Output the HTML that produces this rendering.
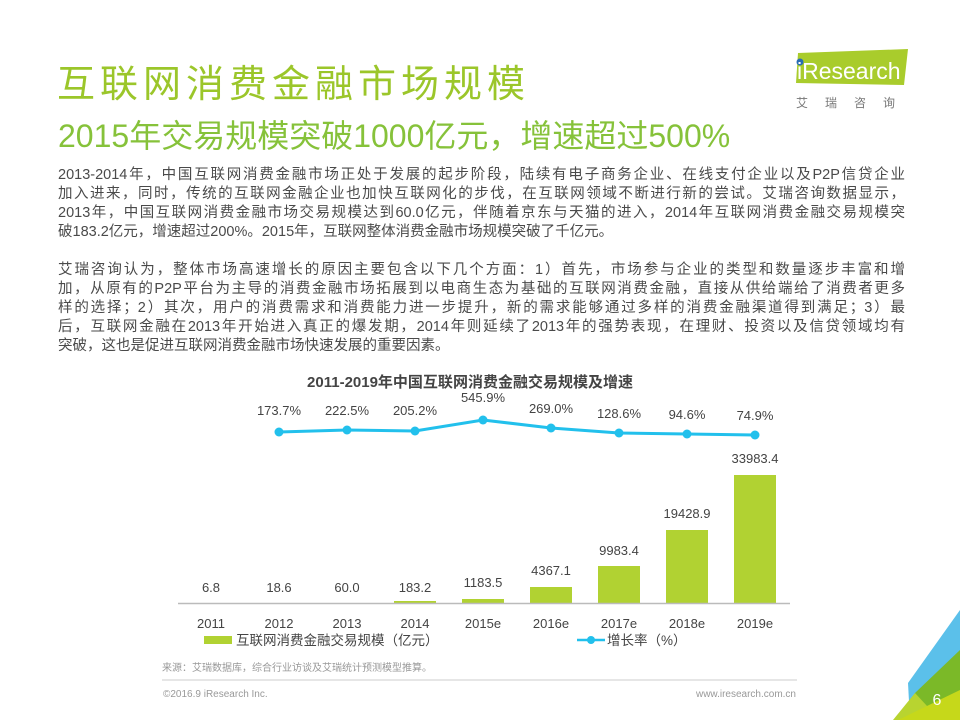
<!DOCTYPE html>
<html><head><meta charset="utf-8"><style>
body{margin:0;width:960px;height:720px;background:#fff;position:relative;overflow:hidden;font-family:"Liberation Sans","Noto Sans CJK SC",sans-serif;}
.a{position:absolute;white-space:nowrap;}
.p{position:absolute;left:58px;width:847px;font-size:14.5px;color:#4a4a4a;text-align:justify;text-align-last:justify;white-space:nowrap;line-height:19px;}
.p.e{text-align-last:left;}
</style></head><body>
<div class="a" style="left:57px;top:53px;font-size:38px;color:#9bc62a;letter-spacing:5px;">互联网消费金融市场规模</div>
<div class="a" style="left:58px;top:111px;font-size:32px;color:#86c23a;">2015年交易规模突破1000亿元，增速超过500%</div>

<div class="p" style="top:166px">2013-2014年，中国互联网消费金融市场正处于发展的起步阶段，陆续有电子商务企业、在线支付企业以及P2P信贷企业</div>
<div class="p" style="top:185px">加入进来，同时，传统的互联网金融企业也加快互联网化的步伐，在互联网领域不断进行新的尝试。艾瑞咨询数据显示，</div>
<div class="p" style="top:204px">2013年，中国互联网消费金融市场交易规模达到60.0亿元，伴随着京东与天猫的进入，2014年互联网消费金融交易规模突</div>
<div class="p e" style="top:223px">破183.2亿元，增速超过200%。2015年，互联网整体消费金融市场规模突破了千亿元。</div>
<div class="p" style="top:261px">艾瑞咨询认为，整体市场高速增长的原因主要包含以下几个方面：1）首先，市场参与企业的类型和数量逐步丰富和增</div>
<div class="p" style="top:280px">加，从原有的P2P平台为主导的消费金融市场拓展到以电商生态为基础的互联网消费金融，直接从供给端给了消费者更多</div>
<div class="p" style="top:299px">样的选择；2）其次，用户的消费需求和消费能力进一步提升，新的需求能够通过多样的消费金融渠道得到满足；3）最</div>
<div class="p" style="top:318px">后，互联网金融在2013年开始进入真正的爆发期，2014年则延续了2013年的强势表现，在理财、投资以及信贷领域均有</div>
<div class="p e" style="top:337px">突破，这也是促进互联网消费金融市场快速发展的重要因素。</div>

<svg class="a" style="left:780px;top:45px" width="140" height="70">
<polygon points="18,8 128,4 124,40 16,38" fill="#a9cc2c"/>
<circle cx="20" cy="17" r="3.5" fill="#2a6db5"/>
<text x="17" y="34" font-size="23" fill="#fff" font-family="Liberation Sans,sans-serif">iResearch</text>
<text x="16" y="62" font-size="12" fill="#777" letter-spacing="17" font-family="Liberation Sans,Noto Sans CJK SC,sans-serif">艾瑞咨询</text>
</svg>

<svg class="a" style="left:0;top:0" width="960" height="720" font-family="Liberation Sans,Noto Sans CJK SC,sans-serif">
<text x="470" y="387" text-anchor="middle" font-size="15" font-weight="bold" fill="#444">2011-2019年中国互联网消费金融交易规模及增速</text>
<g fill="#b1d232">
<rect x="394" y="601" width="42" height="2"/>
<rect x="462" y="599" width="42" height="4"/>
<rect x="530" y="587" width="42" height="16"/>
<rect x="598" y="566" width="42" height="37"/>
<rect x="666" y="530" width="42" height="73"/>
<rect x="734" y="475" width="42" height="128"/>
</g>
<line x1="178" y1="603.5" x2="790" y2="603.5" stroke="#bbb" stroke-width="1.5"/>
<g font-size="13" fill="#444" text-anchor="middle">
<text x="211" y="592">6.8</text><text x="279" y="592">18.6</text><text x="347" y="592">60.0</text><text x="415" y="592">183.2</text>
<text x="483" y="587">1183.5</text><text x="551" y="575">4367.1</text><text x="619" y="555">9983.4</text><text x="687" y="518">19428.9</text><text x="755" y="463">33983.4</text>
<text x="211" y="628">2011</text><text x="279" y="628">2012</text><text x="347" y="628">2013</text><text x="415" y="628">2014</text><text x="483" y="628">2015e</text><text x="551" y="628">2016e</text><text x="619" y="628">2017e</text><text x="687" y="628">2018e</text><text x="755" y="628">2019e</text>
<text x="279" y="415">173.7%</text><text x="347" y="415">222.5%</text><text x="415" y="415">205.2%</text><text x="483" y="402">545.9%</text><text x="551" y="413">269.0%</text><text x="619" y="418">128.6%</text><text x="687" y="419">94.6%</text><text x="755" y="420">74.9%</text>
</g>
<polyline points="279,432 347,430 415,431 483,420 551,428 619,433 687,434 755,435" fill="none" stroke="#22c0ec" stroke-width="3"/>
<g fill="#22c0ec"><circle cx="279" cy="432" r="4.5"/><circle cx="347" cy="430" r="4.5"/><circle cx="415" cy="431" r="4.5"/><circle cx="483" cy="420" r="4.5"/><circle cx="551" cy="428" r="4.5"/><circle cx="619" cy="433" r="4.5"/><circle cx="687" cy="434" r="4.5"/><circle cx="755" cy="435" r="4.5"/></g>
<rect x="204" y="636" width="28" height="8" fill="#b1d232"/>
<text x="236" y="645" font-size="13.5" fill="#444">互联网消费金融交易规模（亿元）</text>
<line x1="577" y1="640" x2="605" y2="640" stroke="#22c0ec" stroke-width="2.5"/><circle cx="591" cy="640" r="4" fill="#22c0ec"/>
<text x="607" y="645" font-size="13.5" fill="#444">增长率（%）</text>
<text x="162" y="671" font-size="10" fill="#999">来源：艾瑞数据库，综合行业访谈及艾瑞统计预测模型推算。</text>
<line x1="162" y1="680" x2="797" y2="680" stroke="#ccc" stroke-width="1"/>
<text x="163" y="697" font-size="10" fill="#999">©2016.9 iResearch Inc.</text>
<text x="796" y="697" font-size="10" fill="#999" text-anchor="end">www.iresearch.com.cn</text>
<polygon points="908,683 960,610 960,680 925,720 910,720" fill="#5bc0ea"/>
<polygon points="915,693 960,650 960,720 900,720" fill="#7bb928"/>
<polygon points="893,720 915,693 940,720" fill="#b8d430"/>
<polygon points="898,720 960,690 960,720" fill="#c6d81a"/>
<text x="937" y="705" font-size="16" fill="#fff" text-anchor="middle">6</text>
</svg>
</body></html>
